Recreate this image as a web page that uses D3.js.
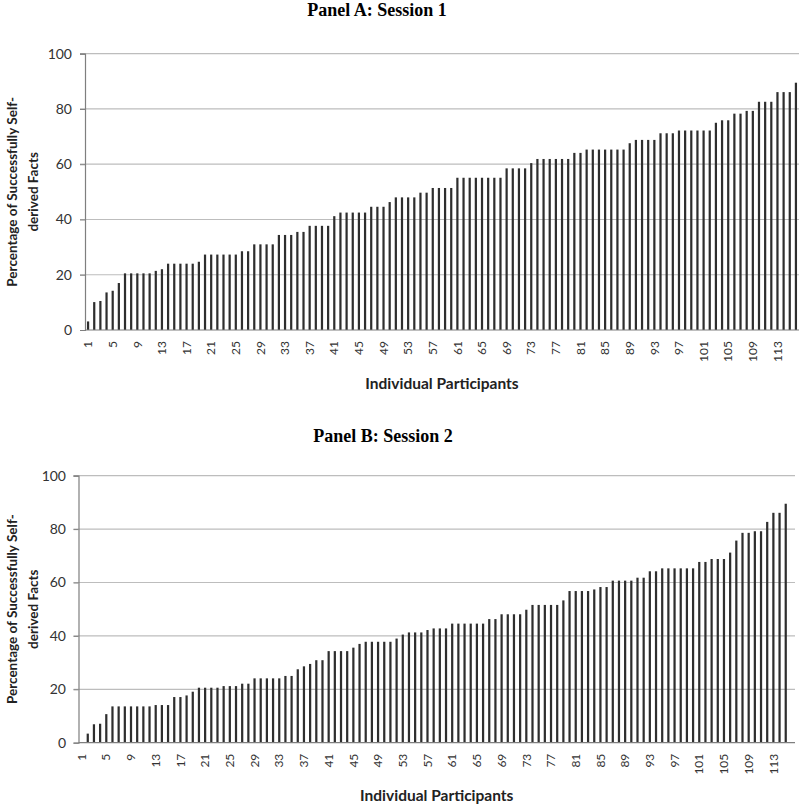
<!DOCTYPE html>
<html>
<head>
<meta charset="utf-8">
<script src="https://cdn.jsdelivr.net/npm/d3@7"></script>
<style>
  html, body { margin: 0; padding: 0; background: #fff; }
  svg { display: block; }
</style>
</head>
<body>
<svg id="chart" width="800" height="805"></svg>
<script>
// ---- data ----
const participants = d3.range(1, 117);           // participant categories 1..116
const xTickLabels = [1,5,9,13,17,21,25,29,33,37,41,45,49,53,57,61,65,69,73,77,81,85,89,93,97,101,105,109,113];
const yTickValues = [0, 20, 40, 60, 80, 100];

// Panel A: Session 1 (percentage of successfully self-derived facts)
const session1 = [
  3.1, 10.1, 10.5, 13.6, 14.2, 17.0,
  20.5, 20.5, 20.5, 20.5, 20.5,
  21.4, 22.0,
  24.0, 24.0, 24.0, 24.0, 24.0, 24.7,
  27.3, 27.3, 27.3, 27.3, 27.3, 27.3,
  28.5, 28.5,
  31.0, 31.0, 31.0, 31.0,
  34.4, 34.4, 34.4,
  35.5, 35.5,
  37.7, 37.7, 37.7, 37.7,
  41.2,
  42.5, 42.5, 42.5, 42.5, 42.5,
  44.6, 44.6, 44.6,
  46.3,
  48.0, 48.0, 48.0, 48.0,
  49.7, 49.7,
  51.4, 51.4, 51.4, 51.4,
  55.1, 55.1, 55.1, 55.1, 55.1, 55.1, 55.1, 55.1,
  58.5, 58.5, 58.5, 58.5,
  60.4,
  61.9, 61.9, 61.9, 61.9, 61.9, 61.9,
  64.1, 64.1,
  65.3, 65.3, 65.3, 65.3, 65.3, 65.3, 65.3,
  67.6,
  68.8, 68.8, 68.8, 68.8,
  71.2, 71.2, 71.2,
  72.2, 72.2, 72.2, 72.2, 72.2, 72.2,
  75.0, 75.9, 75.9,
  78.3, 78.3,
  79.3, 79.3,
  82.6, 82.6, 82.6,
  86.1, 86.1, 86.1,
  89.5
];

// Panel B: Session 2 (participant 1 shows no bar)
const session2 = [
  0, 3.4, 6.9, 7.1, 10.7,
  13.6, 13.6, 13.6, 13.6, 13.6, 13.6, 13.6,
  14.1, 14.1, 14.1,
  17.1, 17.1, 17.7, 19.1,
  20.6, 20.6, 20.6, 20.6,
  21.2, 21.2, 21.2,
  22.1, 22.1,
  24.1, 24.1, 24.1, 24.1, 24.1,
  25.0, 25.0,
  27.5, 28.6, 29.5,
  30.9, 30.9,
  34.3, 34.3, 34.3, 34.3,
  35.6, 37.0,
  37.8, 37.8, 37.8, 37.8, 37.8,
  39.0, 40.5,
  41.3, 41.3, 41.3,
  42.2,
  42.8, 42.8, 42.8,
  44.6, 44.6, 44.6, 44.6, 44.6, 44.6,
  46.3, 46.3,
  48.1, 48.1, 48.1, 48.1,
  49.8,
  51.6, 51.6, 51.6, 51.6, 51.6,
  53.3,
  56.8, 56.8, 56.8, 56.8,
  57.4,
  58.3, 58.3,
  60.7, 60.7, 60.7, 60.7,
  61.8, 61.8,
  64.2, 64.2,
  65.3, 65.3, 65.3, 65.3, 65.3, 65.3,
  67.7, 67.7,
  68.8, 68.8, 68.8,
  71.2, 75.7,
  78.6, 78.6,
  79.2, 79.2,
  82.7,
  86.1, 86.1,
  89.5
];

const panels = [
  { title: "Panel A: Session 1", values: session1,
    left: 85, right: 799, top: 53.7, bottom: 330,
    titleX: 377, titleY: 16, xTitleY: 389, yTitleX: 12, labelRight: 72 },
  { title: "Panel B: Session 2", values: session2,
    left: 78.5, right: 795, top: 475.7, bottom: 742.7,
    titleX: 383, titleY: 442, xTitleY: 801, yTitleX: 12, labelRight: 66 }
];

const svg = d3.select("#chart");
const sans = "Lato, 'Open Sans', sans-serif";

panels.forEach(p => {
  const g = svg.append("g");
  const x = d3.scaleBand()
    .domain(participants)
    .range([p.left, p.right])
    .paddingInner(0.64)
    .paddingOuter(0.32);
  const y = d3.scaleLinear().domain([0, 100]).range([p.bottom, p.top]);

  // gridlines
  g.append("g").selectAll("line")
    .data(yTickValues.filter(v => v > 0))
    .join("line")
    .attr("x1", p.left - 5).attr("x2", p.right)
    .attr("y1", d => y(d)).attr("y2", d => y(d))
    .attr("stroke", "#bdbdbd").attr("stroke-width", 1.2);

  // y axis
  const yAxis = d3.axisLeft(y).tickValues(yTickValues).tickSize(5).tickPadding(8);
  const ya = g.append("g").attr("transform", `translate(${p.left},0)`).call(yAxis);
  ya.select(".domain").attr("stroke", "#7f7f7f").attr("stroke-width", 1.2);
  ya.selectAll(".tick line").attr("stroke", "#7f7f7f");
  ya.selectAll(".tick text")
    .attr("font-family", sans).attr("font-size", 14).attr("fill", "#333")
    .attr("x", p.labelRight - p.left);

  // bars
  const data = p.values.map((v, i) => ({ id: participants[i], v }));
  g.append("g").selectAll("rect")
    .data(data.filter(d => d.v > 0))
    .join("rect")
    .attr("x", d => x(d.id))
    .attr("width", x.bandwidth())
    .attr("y", d => y(d.v))
    .attr("height", d => y(0) - y(d.v))
    .attr("fill", "#2e2e2e");

  // x axis
  const xAxis = d3.axisBottom(x).tickValues(xTickLabels).tickSize(0).tickPadding(0);
  const xa = g.append("g").attr("transform", `translate(0,${p.bottom})`).call(xAxis);
  xa.select(".domain").attr("stroke", "#7f7f7f").attr("stroke-width", 1.2)
    .attr("d", `M${p.left},0H${p.right}`);
  xa.selectAll(".tick text")
    .attr("font-family", sans).attr("font-size", 12).attr("fill", "#333")
    .attr("transform", "rotate(-90)")
    .attr("text-anchor", "end")
    .attr("x", -11).attr("y", 0).attr("dy", "0.35em");

  // panel title
  g.append("text")
    .attr("x", p.titleX).attr("y", p.titleY)
    .attr("text-anchor", "middle")
    .attr("font-family", "'Liberation Serif', 'Times New Roman', serif")
    .attr("font-weight", "bold").attr("font-size", 18)
    .attr("fill", "#000")
    .text(p.title);

  // x title
  g.append("text")
    .attr("x", (p.left + p.right) / 2).attr("y", p.xTitleY)
    .attr("text-anchor", "middle")
    .attr("font-family", sans).attr("font-weight", "bold").attr("font-size", 15.5)
    .attr("fill", "#222")
    .text("Individual Participants");

  // y title (two lines)
  const cy = (p.top + p.bottom) / 2;
  const yt = g.append("text")
    .attr("transform", `translate(${p.yTitleX + 5},${cy}) rotate(-90)`)
    .attr("text-anchor", "middle")
    .attr("font-family", sans).attr("font-weight", "bold").attr("font-size", 13.5)
    .attr("fill", "#222");
  yt.append("tspan").attr("x", 0).attr("y", 0).text("Percentage of Successfully Self-");
  yt.append("tspan").attr("x", 0).attr("y", 21).text("derived Facts");
});
</script>
</body>
</html>
